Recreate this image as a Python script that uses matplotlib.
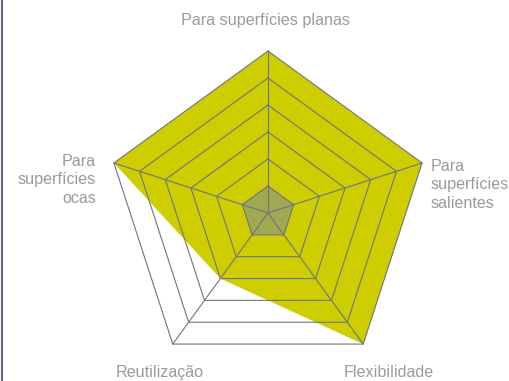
import numpy as np
import matplotlib.pyplot as plt

plt.rcParams["font.family"] = ["Liberation Sans", "DejaVu Sans"]

# axis labels, clockwise from the top
categories = [
    "Para superfícies planas",
    "Para\nsuperfícies\nsalientes",
    "Flexibilidade",
    "Reutilização",
    "Para\nsuperfícies\nocas",
]
main_values = [6, 6, 6, 3, 6]
base_values = [1, 1, 1, 1, 1]
levels = [1, 2, 3, 4, 5, 6]

fill_color = "#CDCD00"
base_color = "#A1A852"
grid_color = "#6E7482"
text_color = "#9A9A9A"

fig = plt.figure(figsize=(5.1, 3.81), dpi=100)
ax = fig.add_axes([0.2078, 0.0157, 0.6353, 0.8504], projection="polar")
ax.set_theta_offset(np.pi / 2)
ax.set_theta_direction(-1)
ax.set_ylim(0, levels[-1])
ax.grid(False)
ax.spines["polar"].set_visible(False)
ax.set_xticks([])
ax.set_yticks([])
ax.patch.set_alpha(0)

angles = np.linspace(0, 2 * np.pi, len(categories), endpoint=False)
closed = np.append(angles, angles[0])

ax.fill(closed, main_values + main_values[:1], color=fill_color, lw=0, zorder=1, clip_on=False)
ax.fill(closed, base_values + base_values[:1], color=base_color, lw=0, zorder=2, clip_on=False)

# pentagon grid drawn on top of the fills
for lv in levels:
    ax.plot(closed, [lv] * len(closed), color=grid_color, lw=0.8, zorder=3, clip_on=False)
for a in angles:
    ax.plot([a, a], [0, levels[-1]], color=grid_color, lw=0.8, zorder=3, clip_on=False)

# label placement: (offset x, offset y in pixels, ha, va)
label_pos = [
    (-2, 31, "center", "center"),
    (9, -22, "left", "center"),
    (25, -28, "center", "center"),
    (-13, -28, "center", "center"),
    (-18, -17, "right", "center"),
]
for a, label, (dx, dy, ha, va) in zip(angles, categories, label_pos):
    ax.annotate(label, xy=(a, levels[-1]), xytext=(dx, dy), textcoords="offset pixels",
                ha=ha, va=va, color=text_color, fontsize=11.6, linespacing=1.3,
                annotation_clip=False)

fig.add_artist(plt.Line2D([0.004, 0.004], [0, 1], transform=fig.transFigure,
                          color="#5F6878", lw=1.5))

fig.savefig("out.png", dpi=100)
